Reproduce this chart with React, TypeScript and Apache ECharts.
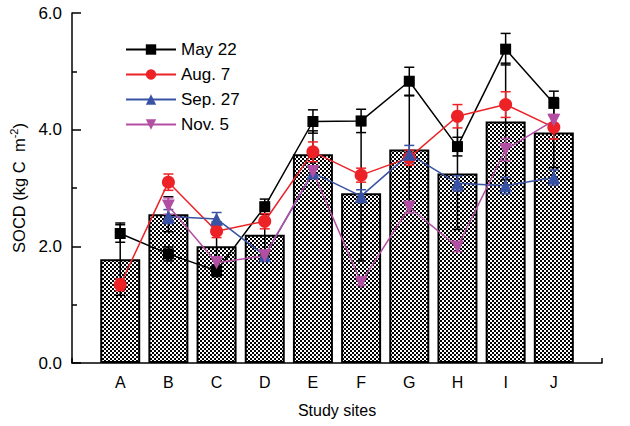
import React, { useEffect, useRef } from "react";
import * as echarts from "echarts";

const sites = ["A", "B", "C", "D", "E", "F", "G", "H", "I", "J"];
const barMean = [1.78, 2.55, 2.0, 2.2, 3.58, 2.91, 3.66, 3.25, 4.14, 3.95];
const barErr = [0.62, 0.3, 0.42, 0.35, 0.4, 1.16, 0.92, 0.96, 1.0, 0.6];
const may22 = [2.22, 1.87, 1.58, 2.68, 4.14, 4.15, 4.83, 3.71, 5.38, 4.45];
const may22Err = [0.15, 0.12, 0.1, 0.13, 0.2, 0.2, 0.24, 0.16, 0.27, 0.21];
const aug7 = [1.34, 3.1, 2.26, 2.43, 3.62, 3.22, 3.52, 4.23, 4.43, 4.04];
const aug7Err = [0.1, 0.14, 0.11, 0.13, 0.17, 0.12, 0.13, 0.2, 0.22, 0.2];
const sep27 = [null, 2.51, 2.47, 1.84, 3.26, 2.86, 3.58, 3.08, 3.04, 3.18];
const sep27Err = [null, 0.12, 0.11, 0.08, 0.1, 0.11, 0.15, 0.13, 0.14, 0.13];
const nov5 = [null, 2.69, 1.72, 1.84, 3.28, 1.38, 2.67, 1.99, 3.66, 4.16];
const nov5Err = [null, 0.14, 0.1, 0.08, 0.1, 0.05, 0.1, 0.08, 0.19, 0.1];
const yTicks = [0, 2, 4, 6];

const FONT = "'Liberation Sans', Arial, sans-serif";

function makePattern() {
  const c = document.createElement("canvas");
  c.width = 4;
  c.height = 4;
  const ctx = c.getContext("2d")!;
  ctx.fillStyle = "#ffffff";
  ctx.fillRect(0, 0, 4, 4);
  ctx.fillStyle = "#000000";
  ctx.fillRect(0, 0, 2, 2);
  ctx.fillRect(2, 2, 2, 2);
  return c;
}

function errSeries(name: string, vals: (number | null)[], errs: (number | null)[], color: string, lw: number, z: number) {
  const data: any[] = [];
  vals.forEach((v, i) => {
    const e = errs[i];
    if (v != null && e != null) data.push([i + 1, v - e, v + e]);
  });
  return {
    type: "custom",
    name,
    z,
    data,
    encode: { x: 0, y: [1, 2] },
    renderItem: (params: any, api: any) => {
      const x = api.value(0);
      const lo = api.coord([x, api.value(1)]);
      const hi = api.coord([x, api.value(2)]);
      const hw = 5;
      const style = { stroke: color, lineWidth: lw };
      return {
        type: "group",
        children: [
          { type: "line", shape: { x1: lo[0], y1: lo[1], x2: hi[0], y2: hi[1] }, style },
          { type: "line", shape: { x1: lo[0] - hw, y1: lo[1], x2: lo[0] + hw, y2: lo[1] }, style },
          { type: "line", shape: { x1: hi[0] - hw, y1: hi[1], x2: hi[0] + hw, y2: hi[1] }, style },
        ],
      };
    },
    silent: true,
  };
}

function lineSeries(name: string, vals: (number | null)[], color: string, symbol: string, size: number) {
  return {
    type: "line",
    name,
    z: 5,
    data: vals.map((v, i) => [i + 1, v]),
    symbol,
    symbolSize: size,
    showAllSymbol: true,
    connectNulls: false,
    lineStyle: { color, width: 1.5 },
    itemStyle: { color },
  };
}

export default function App() {
  const ref = useRef<HTMLDivElement>(null);
  useEffect(() => {
    if (!ref.current) return;
    const chart = echarts.init(ref.current, null, { renderer: "svg" });
    const pattern = makePattern();
    const black = "#000000";
    const red = "#ec2227";
    const blue = "#3953a4";
    const purple = "#b24fa3";
    const option: any = {
      animation: false,
      backgroundColor: "#ffffff",
      textStyle: { fontFamily: FONT },
      grid: { left: 70, right: 28, top: 13, bottom: 63 },
      legend: {
        orient: "vertical",
        left: 125,
        top: 41,
        padding: 0,
        itemWidth: 50,
        itemHeight: 13,
        itemGap: 8,
        data: ["May 22", "Aug. 7", "Sep. 27", "Nov. 5"],
        textStyle: { fontSize: 17, color: "#000", fontFamily: FONT },
      },
      xAxis: {
        type: "value",
        min: 0,
        max: 11,
        interval: 1,
        name: "Study sites",
        nameLocation: "middle",
        nameGap: 39,
        nameTextStyle: { fontSize: 16, color: "#000", fontFamily: FONT },
        axisLine: { show: true, lineStyle: { color: "#000", width: 1.5 } },
        axisTick: { show: true, inside: true, length: 5, lineStyle: { color: "#000", width: 1.5 } },
        axisLabel: {
          fontSize: 16,
          color: "#000",
          margin: 11,
          fontFamily: FONT,
          formatter: (v: number) => sites[v - 1] ?? "",
        },
        splitLine: { show: false },
      },
      yAxis: {
        type: "value",
        min: yTicks[0],
        max: yTicks[yTicks.length - 1],
        interval: 2,
        name: "{a|SOCD (kg C  m}{s|-2}{a|)}",
        nameLocation: "middle",
        nameGap: 42,
        nameTextStyle: {
          rich: {
            a: { fontSize: 16.5, color: "#000", fontFamily: FONT, lineHeight: 22 },
            s: { fontSize: 11, color: "#000", fontFamily: FONT, lineHeight: 11, verticalAlign: "top" },
          },
        },
        axisLine: { show: true, lineStyle: { color: "#000", width: 1.5 } },
        axisTick: { show: true, inside: true, length: 9, lineStyle: { color: "#000", width: 1.5 } },
        minorTick: { show: true, splitNumber: 2, length: 5, lineStyle: { color: "#000", width: 1.5 } },
        axisLabel: {
          fontSize: 17,
          color: "#000",
          margin: 10,
          fontFamily: FONT,
          formatter: (v: number) => v.toFixed(1),
        },
        splitLine: { show: false },
        minorSplitLine: { show: false },
      },
      series: [
        {
          type: "bar",
          name: "mean",
          z: 1,
          barWidth: 40,
          data: barMean.map((v, i) => [i + 1, v]),
          itemStyle: {
            color: { image: pattern, repeat: "repeat" },
            borderColor: "#000",
            borderWidth: 2,
          },
          silent: true,
        },
        errSeries("barErr", barMean, barErr, black, 1.5, 2),
        errSeries("may22Err", may22, may22Err, black, 1.5, 3),
        errSeries("aug7Err", aug7, aug7Err, red, 1.5, 3),
        errSeries("sep27Err", sep27, sep27Err, blue, 1.5, 3),
        errSeries("nov5Err", nov5, nov5Err, purple, 1.5, 3),
        lineSeries("May 22", may22, black, "rect", 11),
        lineSeries("Aug. 7", aug7, red, "circle", 13),
        lineSeries("Sep. 27", sep27, blue, "triangle", 13),
        lineSeries("Nov. 5", nov5, purple, "path://M0,0L10,0L5,9Z", 13),
      ],
    };
    chart.setOption(option);
    return () => chart.dispose();
  }, []);
  return (
    <div
      ref={ref}
      style={{ position: "fixed", left: 0, top: 0, width: 630, height: 426, background: "#fff" }}
    />
  );
}
